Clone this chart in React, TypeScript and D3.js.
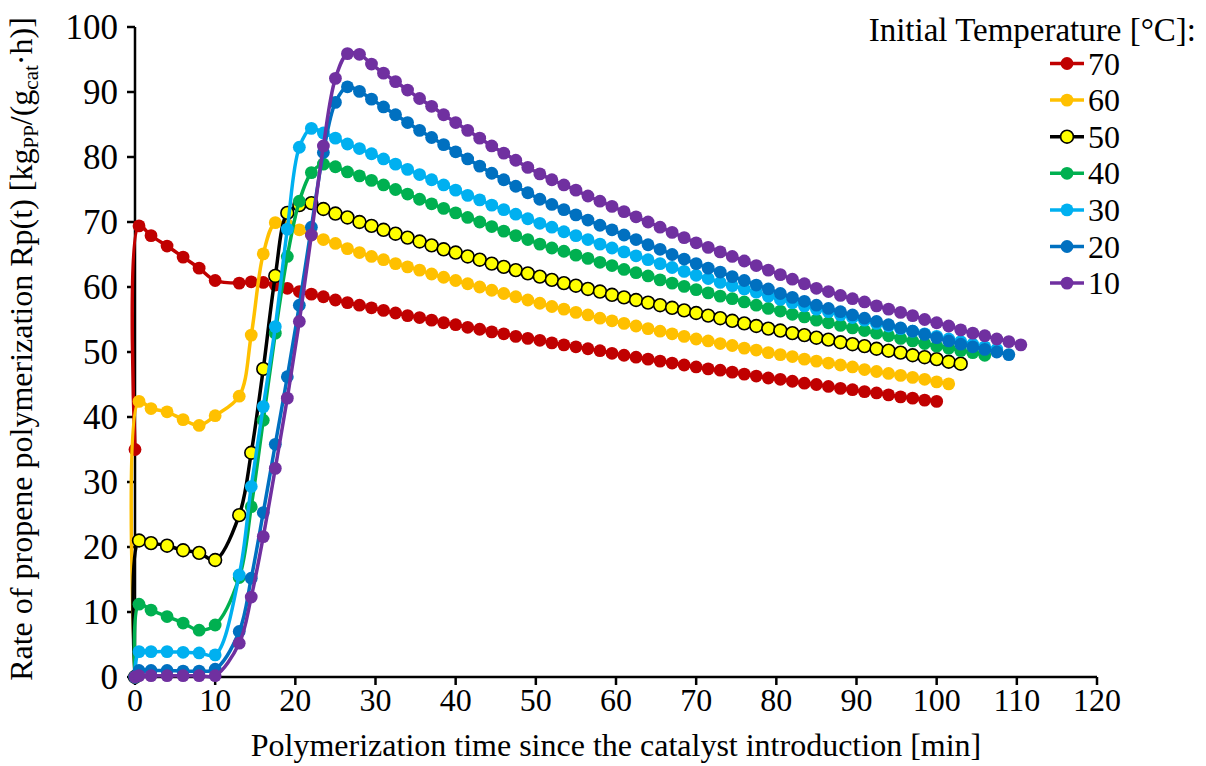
import React from "react";
import * as d3 from "d3";

const TIME = [0, 0.5, 2, 4, 6, 8, 10, 13, 14.5, 16, 17.5, 19, 20.5, 22, 23.5, 25, 26.5, 28, 29.5, 31, 32.5, 34, 35.5, 37, 38.5, 40, 41.5, 43, 44.5, 46, 47.5, 49, 50.5, 52, 53.5, 55, 56.5, 58, 59.5, 61, 62.5, 64, 65.5, 67, 68.5, 70, 71.5, 73, 74.5, 76, 77.5, 79, 80.5, 82, 83.5, 85, 86.5, 88, 89.5, 91, 92.5, 94, 95.5, 97, 98.5, 100, 101.5, 103, 104.5, 106, 107.5, 109, 110.5];

const T70 = [35.0, 69.4, 67.9, 66.3, 64.6, 62.9, 61.0, 60.6, 60.8, 60.7, 60.3, 59.8, 59.3, 58.9, 58.5, 58.0, 57.6, 57.2,
  56.8, 56.4, 56.0, 55.6, 55.3, 54.9, 54.5, 54.2, 53.8, 53.5, 53.1, 52.8, 52.4, 52.1, 51.8, 51.4, 51.1, 50.8, 50.5, 50.2, 49.8, 49.5, 49.2, 48.9, 48.6, 48.3, 48.0, 47.7, 47.4, 47.2, 46.9, 46.6, 46.3, 46.0, 45.8, 45.5, 45.2, 45.0, 44.7, 44.4, 44.2, 43.9, 43.7, 43.4, 43.1, 42.9, 42.6, 42.4];

const T60 = [0, 42.4, 41.3, 40.8, 39.6, 38.7, 40.2, 43.2, 52.6, 65.1, 69.9, 69.6, 68.8, 68.0, 67.3, 66.7, 65.9, 65.3,
  64.7, 64.2, 63.6, 63.1, 62.6, 62.0, 61.5, 61.0, 60.5, 60.0, 59.5, 59.0, 58.5, 58.0, 57.5, 57.0, 56.6, 56.1, 55.7, 55.2, 54.8, 54.4, 54.0, 53.6, 53.2, 52.8, 52.4, 52.0, 51.7, 51.3, 51.0, 50.6, 50.3, 49.9, 49.6, 49.3, 48.9, 48.6, 48.3, 48.0, 47.7, 47.3, 47.0, 46.7, 46.4, 46.1, 45.8, 45.4, 45.1];

const T50 = [0, 21.0, 20.6, 20.2, 19.5, 19.1, 18.0, 24.9, 34.5, 47.4, 61.7, 71.4, 72.6, 72.9, 72.0, 71.3, 70.7, 70.0,
  69.4, 68.8, 68.2, 67.6, 67.0, 66.4, 65.8, 65.3, 64.7, 64.2, 63.6, 63.1, 62.6, 62.1, 61.6, 61.1, 60.6, 60.2, 59.7, 59.3, 58.8, 58.4, 58.0, 57.6, 57.2, 56.8, 56.4, 56.0, 55.6, 55.2, 54.8, 54.4, 54.0, 53.6, 53.3, 52.9, 52.6, 52.2, 51.9, 51.5, 51.2, 50.9, 50.5, 50.2, 49.9, 49.5, 49.2, 48.9, 48.5, 48.2];

const T40 = [0, 11.2, 10.3, 9.3, 8.3, 7.2, 8.0, 15.3, 26.2, 39.5, 52.9, 64.7, 73.2, 77.6, 78.9, 78.5, 77.7, 77.1,
  76.4, 75.7, 75.0, 74.3, 73.5, 72.8, 72.1, 71.4, 70.7, 70.0, 69.3, 68.6, 67.9, 67.3, 66.6, 66.0, 65.5, 64.9, 64.4, 63.8, 63.3, 62.7, 62.2, 61.7, 61.1, 60.6, 60.1, 59.6, 59.1, 58.6, 58.2, 57.7, 57.2, 56.7, 56.3, 55.8, 55.4, 54.9, 54.5, 54.1, 53.7, 53.3, 52.9, 52.5, 52.1, 51.7, 51.3, 50.9, 50.6, 50.2, 49.9, 49.5];

const T30 = [0, 3.9, 3.9, 3.9, 3.8, 3.7, 3.4, 15.7, 29.3, 41.6, 53.9, 68.9, 81.5, 84.4, 83.7, 82.9, 82.0, 81.3,
  80.5, 79.7, 78.9, 78.1, 77.3, 76.5, 75.7, 74.9, 74.1, 73.4, 72.6, 71.9, 71.2, 70.5, 69.8, 69.2, 68.5, 67.9, 67.3, 66.6, 66.0, 65.4, 64.8, 64.2, 63.6, 63.0, 62.4, 61.8, 61.3, 60.7, 60.2, 59.7, 59.2, 58.6, 58.1, 57.6, 57.1, 56.6, 56.2, 55.7, 55.3, 54.9, 54.4, 54.0, 53.6, 53.2, 52.8, 52.4, 52.0, 51.6, 51.2, 50.8, 50.4];

const T20 = [0, 1.0, 1.0, 1.0, 0.9, 0.9, 1.2, 7.0, 15.2, 25.3, 35.8, 46.2, 57.2, 69.2, 80.7, 88.4, 90.8, 90.1,
  88.9, 87.7, 86.5, 85.3, 84.1, 83.0, 81.9, 80.8, 79.7, 78.6, 77.5, 76.5, 75.5, 74.5, 73.5, 72.7, 71.9, 71.1, 70.3, 69.5, 68.8, 68.0, 67.3, 66.5, 65.8, 65.0, 64.3, 63.6, 62.9, 62.3, 61.6, 61.0, 60.3, 59.7, 59.0, 58.4, 57.8, 57.2, 56.7, 56.2, 55.7, 55.2, 54.7, 54.2, 53.7, 53.2, 52.7, 52.2, 51.7, 51.2, 50.8, 50.4, 50.0, 49.6];

const T10 = [0, 0.2, 0.2, 0.2, 0.2, 0.2, 0.2, 5.2, 12.3, 21.6, 32.1, 42.9, 54.7, 68.0, 81.7, 92.1, 95.9, 95.8,
  94.3, 92.9, 91.6, 90.3, 89.0, 87.8, 86.5, 85.3, 84.1, 82.9, 81.7, 80.6, 79.5, 78.4, 77.4, 76.5, 75.7, 74.9, 74.0, 73.2, 72.4, 71.6, 70.8, 70.0, 69.2, 68.4, 67.6, 66.8, 66.1, 65.4, 64.7, 64.0, 63.3, 62.6, 61.9, 61.2, 60.5, 59.8, 59.3, 58.7, 58.2, 57.7, 57.1, 56.6, 56.1, 55.6, 55.0, 54.5, 54.0, 53.4, 52.9, 52.5, 52.0, 51.6, 51.1];

const SERIES_NAMES = ["70", "60", "50", "40", "30", "20", "10"];
const SERIES_VALUES = [T70, T60, T50, T40, T30, T20, T10];
const LINE_COLORS = ["#C00000", "#FFC000", "#000000", "#00B050", "#00B0F0", "#0070C0", "#7030A0"];
const MARKER_FILLS = ["#C00000", "#FFC000", "#FFFF00", "#00B050", "#00B0F0", "#0070C0", "#7030A0"];
const MARKER_STROKES = ["none", "none", "#000000", "none", "none", "none", "none"];

const X_TICKS = [0, 10, 20, 30, 40, 50, 60, 70, 80, 90, 100, 110, 120];
const Y_TICKS = [0, 10, 20, 30, 40, 50, 60, 70, 80, 90, 100];

const FONT = "'Times New Roman', 'Liberation Serif', serif";

export default function App() {
  const W = 1206, H = 766;
  const x = d3.scaleLinear().domain([0, 120]).range([135, 1097]);
  const y = d3.scaleLinear().domain([0, 100]).range([677, 27]);
  const line = d3
    .line<[number, number]>()
    .x((d) => x(d[0]))
    .y((d) => y(d[1]))
    .curve(d3.curveCatmullRom.alpha(0.5));

  const fs = 32;
  const legX = 1050;
  const legY0 = 63.5;
  const legDy = 36.6;
  const R = 6.4;

  return (
    <svg
      width={W}
      height={H}
      viewBox={`0 0 ${W} ${H}`}
      style={{ position: "absolute", left: 0, top: 0, background: "#fff" }}
      fontFamily={FONT}
    >
      <rect x={0} y={0} width={W} height={H} fill="#fff" />
      {/* axes */}
      <line x1={135} x2={1097} y1={677} y2={677} stroke="#000" strokeWidth={2.5} />
      <line x1={135} x2={135} y1={27} y2={677} stroke="#000" strokeWidth={2.5} />
      {X_TICKS.map((t) => (
        <g key={"xt" + t}>
          <line x1={x(t)} x2={x(t)} y1={677} y2={685} stroke="#000" strokeWidth={2.5} />
          <text x={x(t)} y={711} fontSize={fs} textAnchor="middle" fill="#000">
            {t}
          </text>
        </g>
      ))}
      {Y_TICKS.map((t) => (
        <g key={"yt" + t}>
          <line x1={127} x2={135} y1={y(t)} y2={y(t)} stroke="#000" strokeWidth={2.5} />
          <text x={118} y={y(t) + 12} fontSize={35} textAnchor="end" fill="#000">
            {t}
          </text>
        </g>
      ))}
      {/* series */}
      {SERIES_VALUES.map((vals, si) => {
        const pts: [number, number][] = vals.map((v, i) => [TIME[i], v]);
        return (
          <g key={"s" + si}>
            <path d={line(pts) || ""} fill="none" stroke={LINE_COLORS[si]} strokeWidth={3.5} strokeLinejoin="round" />
            {pts.map((p, i) => (
              <circle
                key={i}
                cx={x(p[0])}
                cy={y(p[1])}
                r={R}
                fill={MARKER_FILLS[si]}
                stroke={MARKER_STROKES[si]}
                strokeWidth={MARKER_STROKES[si] === "none" ? 0 : 1.6}
              />
            ))}
          </g>
        );
      })}
      {/* axis titles */}
      <text x={616} y={756} fontSize={fs} textAnchor="middle" fill="#000">
        Polymerization time since the catalyst introduction [min]
      </text>
      <text transform="translate(32,349) rotate(-90)" fontSize={fs} textAnchor="middle" fill="#000">
        Rate of propene polymerization Rp(t) [kg
        <tspan dy={6} fontSize={21}>PP</tspan>
        <tspan dy={-6}>/(g</tspan>
        <tspan dy={6} fontSize={21}>cat</tspan>
        <tspan dy={-6}>·h)]</tspan>
      </text>
      {/* legend */}
      <text x={1196} y={41} fontSize={33} textAnchor="end" fill="#000">
        Initial Temperature [°C]:
      </text>
      {SERIES_NAMES.map((name, si) => {
        const cy = legY0 + si * legDy;
        return (
          <g key={"lg" + si}>
            <line x1={legX} x2={legX + 34} y1={cy} y2={cy} stroke={LINE_COLORS[si]} strokeWidth={3.5} />
            <circle
              cx={legX + 17}
              cy={cy}
              r={R}
              fill={MARKER_FILLS[si]}
              stroke={MARKER_STROKES[si]}
              strokeWidth={MARKER_STROKES[si] === "none" ? 0 : 1.6}
            />
            <text x={legX + 38} y={cy + 11} fontSize={fs} fill="#000">
              {name}
            </text>
          </g>
        );
      })}
    </svg>
  );
}
